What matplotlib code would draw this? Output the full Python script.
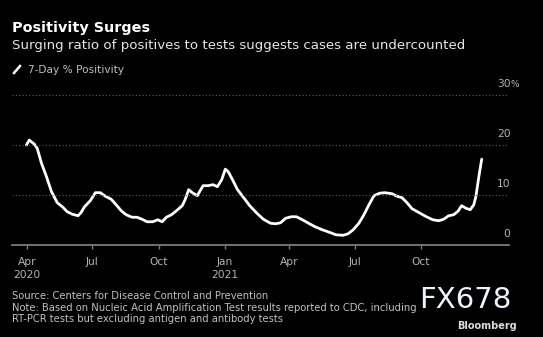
import pandas as pd
import matplotlib.pyplot as plt

dates = ['2020-03-31', '2020-04-04', '2020-04-11', '2020-04-15', '2020-04-21', '2020-04-28',
         '2020-05-05', '2020-05-13', '2020-05-20', '2020-05-27', '2020-06-03', '2020-06-11',
         '2020-06-15', '2020-06-20', '2020-06-28', '2020-07-05', '2020-07-12', '2020-07-19',
         '2020-07-27', '2020-08-03', '2020-08-10', '2020-08-17', '2020-08-25', '2020-09-01',
         '2020-09-08', '2020-09-15', '2020-09-23', '2020-09-30', '2020-10-06', '2020-10-12',
         '2020-10-19', '2020-10-26', '2020-11-03', '2020-11-07', '2020-11-12', '2020-11-17',
         '2020-11-24', '2020-12-02', '2020-12-09', '2020-12-16', '2020-12-22', '2020-12-28',
         '2021-01-02', '2021-01-06', '2021-01-12', '2021-01-19', '2021-01-26', '2021-02-05',
         '2021-02-15', '2021-02-24', '2021-03-06', '2021-03-13', '2021-03-20', '2021-03-27',
         '2021-04-04', '2021-04-11', '2021-04-18', '2021-04-28', '2021-05-07', '2021-05-17',
         '2021-05-27', '2021-06-05', '2021-06-15', '2021-06-22', '2021-06-29', '2021-07-07',
         '2021-07-14', '2021-07-21', '2021-07-28', '2021-08-05', '2021-08-12', '2021-08-22',
         '2021-08-29', '2021-09-05', '2021-09-12', '2021-09-19', '2021-09-29', '2021-10-09',
         '2021-10-18', '2021-10-26', '2021-11-02', '2021-11-09', '2021-11-16', '2021-11-22',
         '2021-11-27', '2021-12-03', '2021-12-09', '2021-12-14', '2021-12-17', '2021-12-21',
         '2021-12-25']
positivity = [20.0, 21.0, 20.2, 19.4, 16.4, 13.7,
              10.7, 8.5, 7.7, 6.7, 6.2, 5.9,
              6.5, 7.7, 8.9, 10.5, 10.5, 9.8,
              9.2, 8.1, 6.9, 6.1, 5.6, 5.6,
              5.2, 4.7, 4.7, 5.1, 4.7, 5.6,
              6.1, 6.9, 7.9, 9.1, 11.1, 10.5,
              9.9, 11.9, 11.9, 12.1, 11.7, 13.1,
              15.2, 14.7, 13.1, 11.1, 9.8, 7.9,
              6.4, 5.2, 4.4, 4.3, 4.5, 5.4,
              5.7, 5.7, 5.2, 4.4, 3.7, 3.1,
              2.6, 2.1, 2.0, 2.3, 3.1, 4.4,
              6.1, 8.1, 9.9, 10.4, 10.5, 10.3,
              9.8, 9.5, 8.5, 7.3, 6.5, 5.7,
              5.1, 4.9, 5.2, 5.9, 6.1, 6.8,
              7.9, 7.4, 7.1, 8.1, 9.8, 13.7,
              17.2]

tick_dates = ['2020-04-01', '2020-07-01', '2020-10-01', '2021-01-01', '2021-04-01', '2021-07-01', '2021-10-01']
tick_labels = ['Apr\n2020', 'Jul', 'Oct', 'Jan\n2021', 'Apr', 'Jul', 'Oct']
y_ticks = [0, 10, 20, 30]
y_labels = ['0', '10', '20', '30']

x = pd.to_datetime(dates)

fig = plt.figure(figsize=(5.43, 3.37), dpi=100, facecolor='black')
ax = fig.add_axes([12 / 543, 91.7 / 337, 497 / 543, 150.3 / 337], facecolor='black')

ax.plot(x, positivity, color='white', lw=2.0, solid_capstyle='round', solid_joinstyle='round')

ax.set_xlim(pd.Timestamp('2020-03-11'), pd.Timestamp('2022-02-01'))
ax.set_ylim(0, 30)
for s in ['top', 'right', 'left']:
    ax.spines[s].set_visible(False)
ax.spines['bottom'].set_color('#7a7a7a')
ax.spines['bottom'].set_linewidth(1.3)

ax.set_xticks(pd.to_datetime(tick_dates))
ax.set_xticklabels(tick_labels, fontsize=7.7, linespacing=1.3)
ax.tick_params(axis='x', colors='#7a7a7a', length=3, width=1, pad=5.5, labelcolor='#b4b4b4')
ax.set_yticks([])
for v in y_ticks[1:]:
    ax.axhline(v, color='#5e5e5e', lw=0.8, ls=(0, (1, 2)))
for v, lab in zip(y_ticks, y_labels):
    ax.annotate(lab, xy=(1.0, v), xycoords=('axes fraction', 'data'),
                xytext=(1, 7.8), textcoords='offset points', ha='right', va='center',
                color='#b4b4b4', fontsize=7.7)
ax.annotate('%', xy=(1.0, 30), xycoords=('axes fraction', 'data'),
            xytext=(1, 7.8), textcoords='offset points', ha='left', va='center',
            color='#b4b4b4', fontsize=6.5)

fig.text(12 / 543, 1 - 28 / 337, 'Positivity Surges', color='white', fontsize=10.4,
         fontweight='bold', va='center')
fig.text(12 / 543, 1 - 45 / 337, 'Surging ratio of positives to tests suggests cases are undercounted',
         color='#e6e6e6', fontsize=9.6, va='center')
fig.lines.append(plt.Line2D([14 / 543, 20 / 543], [1 - 73 / 337, 1 - 66 / 337],
                            color='white', lw=1.8, transform=fig.transFigure))
fig.text(28 / 543, 1 - 70 / 337, '7-Day % Positivity', color='#c0c0c0', fontsize=7.6, va='center')

source = ('Source: Centers for Disease Control and Prevention\n'
          'Note: Based on Nucleic Acid Amplification Test results reported to CDC, including\n'
          'RT-PCR tests but excluding antigen and antibody tests')
fig.text(12 / 543, 1 - 291 / 337, source, color='#c0c0c0', fontsize=7.2, va='top', linespacing=1.2)
fig.text(511 / 543, 1 - 300 / 337, 'FX678', color='#eef4ff', fontsize=21, ha='right', va='center')
fig.text(517 / 543, 1 - 326 / 337, 'Bloomberg', color='#dddddd', fontsize=7, fontweight='bold',
         ha='right', va='center')

fig.savefig('out.png', dpi=100, facecolor='black')
